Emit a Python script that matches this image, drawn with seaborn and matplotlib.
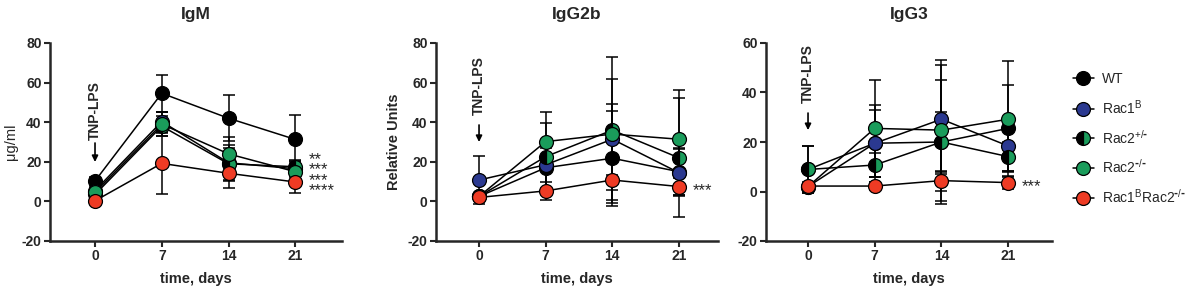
import matplotlib
matplotlib.use("Agg")
import matplotlib.pyplot as plt
from matplotlib.lines import Line2D
import seaborn as sns

days = [0, 7, 14, 21]
groups = ["WT", r"Rac1$^{B}$", r"Rac2$^{+/\text{-}}$", r"Rac2$^{\text{-}/\text{-}}$",
          r"Rac1$^{B}$Rac2$^{\text{-}/\text{-}}$"]
colors = ["#000000", "#2b3990", "#1a9c5b", "#1a9c5b", "#ee3b24"]

igm = [[10.3, 54.6, 42.0, 31.3],
       [5.5, 40.3, 19.5, 16.5],
       [3.5, 38.0, 19.0, 17.5],
       [4.5, 39.0, 24.0, 15.0],
       [0.3, 19.2, 14.2, 9.8]]
igm_err = [[2, 9.3, 11.7, 12.3],
           [2, 5, 9, 4],
           [2, 5, 8, 3.5],
           [2, 6, 8.5, 5],
           [1, 15.5, 7.5, 5.5]]

igg2b = [[2.5, 17.0, 21.8, 15.0],
         [10.8, 18.5, 31.4, 14.5],
         [2.5, 22.6, 36.0, 22.0],
         [2.5, 30.2, 34.0, 31.4],
         [2.0, 5.3, 10.8, 7.5]]
igg2b_err = [[1.5, 10, 24, 12],
             [12, 12, 18, 12],
             [1.5, 17, 37, 30],
             [1.5, 15, 28, 25],
             [1, 4.5, 10, 4.5]]

igg3 = [[8.9, 19.5, 20.0, 25.5],
        [2.0, 19.5, 29.2, 18.4],
        [8.9, 10.7, 20.0, 14.1],
        [2.0, 25.5, 24.8, 29.2],
        [2.2, 2.2, 4.4, 3.6]]
igg3_err = [[9.5, 13.5, 25, 17.5],
            [1.5, 15.5, 22, 10],
            [9.5, 5, 12, 6],
            [1.5, 19.5, 28.5, 23.5],
            [1.5, 1.5, 4, 2.5]]

titles = ["IgM", "IgG2b", "IgG3"]
ylabels = ["\u03bcg/ml", "Relative Units", ""]
ylims = [(-20, 80), (-20, 80), (-20, 60)]
yticks = [[-20, 0, 20, 40, 60, 80], [-20, 0, 20, 40, 60, 80], [-20, 0, 20, 40, 60]]
# significance marks at day 21 (text, y position of block centre)
stars = [("**\n***\n***\n****", 13.3), ("***", 5.3), ("***", 1.9)]
arrows = [(31, 29.5, 19.9), (43.6, 38.6, 30), (35.8, 31.7, 24.8)]

sns.set_style("ticks")
plt.rcParams["font.family"] = ["Liberation Sans", "DejaVu Sans"]
plt.rcParams["font.weight"] = "bold"
plt.rcParams["mathtext.default"] = "regular"
plt.rcParams["axes.unicode_minus"] = False

fig = plt.figure(figsize=(11.92, 2.91), dpi=100)
boxes = [(50, 342, -4.72, 25.9), (436, 718, -4.52, 25.1), (766, 1052, -4.41, 25.6)]
datasets = [(igm, igm_err), (igg2b, igg2b_err), (igg3, igg3_err)]

for i, (x0, x1, xl, xr) in enumerate(boxes):
    ax = fig.add_axes([x0 / 1192, 50 / 291, (x1 - x0) / 1192, 198 / 291])
    vals, errs = datasets[i]
    for j, g in enumerate(groups):
        ax.errorbar(days, vals[j], yerr=errs[j], fmt="none", ecolor="black",
                    elinewidth=1.1, capsize=4.3, capthick=1.1, zorder=2)
        kw = dict(markerfacecolor=colors[j])
        if j == 2:
            kw = dict(markerfacecolor="black", fillstyle="left",
                      markerfacecoloralt=colors[j])
        sns.lineplot(x=days, y=vals[j], ax=ax, color="black", lw=1.1,
                     marker="o", markersize=10, markeredgecolor="black",
                     markeredgewidth=0.9, zorder=3 + j, **kw)
    ax.set_xlim(xl, xr)
    ax.set_ylim(*ylims[i])
    ax.set_xticks(days)
    ax.set_yticks(yticks[i])
    sns.despine(ax=ax)
    for s in ["left", "bottom"]:
        ax.spines[s].set_linewidth(1.8)
    ax.tick_params(direction="out", length=4, width=1.5, labelsize=10, pad=2)
    ax.set_title(titles[i], fontsize=12.5, fontweight="bold", pad=17)
    ax.set_xlabel("time, days", fontsize=10.5, fontweight="bold", labelpad=6)
    if i == 0:
        ax.set_ylabel(ylabels[i], fontsize=10.5, fontweight="normal", labelpad=3)
    elif ylabels[i]:
        ax.set_ylabel(ylabels[i], fontsize=10.5, fontweight="bold", labelpad=5)
    tb, tail, tip = arrows[i]
    ax.text(0, tb, "TNP-LPS", rotation=90, ha="center", va="bottom",
            fontsize=10, fontweight="bold")
    ax.annotate("", xy=(0, tip), xytext=(0, tail),
                arrowprops=dict(arrowstyle="-|>", color="black", lw=1.2,
                                mutation_scale=9, shrinkA=0, shrinkB=0))
    txt, yv = stars[i]
    ax.text(22.4, yv, txt, ha="left", va="center", fontsize=12,
            fontweight="normal", linespacing=0.6, multialignment="left")

handles = []
for j, g in enumerate(groups):
    kw = dict(markerfacecolor=colors[j])
    if j == 2:
        kw = dict(markerfacecolor="black", fillstyle="left", markerfacecoloralt=colors[j])
    handles.append(Line2D([], [], color="black", lw=1.1, marker="o", markersize=10,
                          markeredgecolor="black", markeredgewidth=0.9, **kw))
fig.legend(handles, groups, loc="center left", bbox_to_anchor=(1073 / 1192, 1 - 139 / 291),
           frameon=False, borderpad=0, borderaxespad=0, handlelength=1.5,
           handletextpad=0.6, labelspacing=0.85,
           prop=dict(family="Liberation Sans", weight="normal", size=10))

fig.savefig("out.png", dpi=100)
